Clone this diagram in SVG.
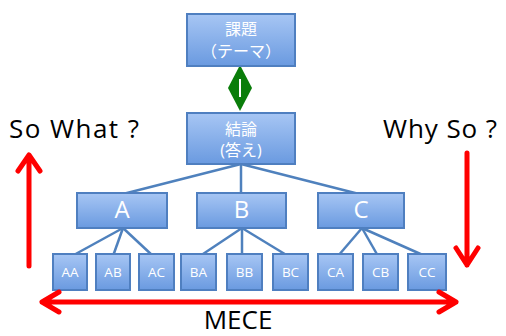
<svg xmlns="http://www.w3.org/2000/svg" width="506" height="336" viewBox="0 0 506 336">
<defs>
<linearGradient id="g" x1="0" y1="0" x2="0" y2="1">
<stop offset="0" stop-color="#a7c6f4"/>
<stop offset="1" stop-color="#6a9ae0"/>
</linearGradient>
</defs>
<style>
.box{fill:url(#g);stroke:#4f7fc0;stroke-width:2}
.t{fill:#fff;font-family:"Open Sans","Noto Sans CJK JP",sans-serif;text-anchor:middle}
.j{font-size:16px}
.big{font-size:24px}
.sm{font-size:13.5px}
.con{stroke:#4f81bd;stroke-width:2.5;fill:none}
.red{stroke:#ff0000;stroke-width:5;fill:none;stroke-linecap:round;stroke-linejoin:round}
.lbl{fill:#000;font-family:"Open Sans",sans-serif;font-size:26px}
</style>
<rect width="506" height="336" fill="#fff"/>
<g id="connectors">
<line class="con" x1="241" y1="164" x2="123" y2="194"/>
<line class="con" x1="241" y1="164" x2="241" y2="194"/>
<line class="con" x1="241" y1="164" x2="359" y2="194"/>
<line class="con" x1="123" y1="228" x2="72" y2="256"/>
<line class="con" x1="123" y1="228" x2="113" y2="256"/>
<line class="con" x1="123" y1="228" x2="153" y2="256"/>
<line class="con" x1="242" y1="228" x2="200" y2="256"/>
<line class="con" x1="242" y1="228" x2="242" y2="256"/>
<line class="con" x1="242" y1="228" x2="288" y2="256"/>
<line class="con" x1="362" y1="228" x2="338" y2="256"/>
<line class="con" x1="362" y1="228" x2="378" y2="256"/>
<line class="con" x1="362" y1="228" x2="425" y2="256"/>
</g>
<g id="link">
<polygon points="240,65 252,88 240,111 228,88" fill="#0a7d0a"/>
<line x1="240" y1="79" x2="240" y2="97" stroke="#fff" stroke-width="2"/>
</g>
<g id="kadai"><rect class="box" x="187" y="14" width="108" height="52"/>
<text class="t j" x="241" y="35">課題</text><text class="t j" x="241" y="57">（テーマ）</text></g>
<g id="ketsuron"><rect class="box" x="187" y="113" width="108" height="51"/>
<text class="t j" x="241" y="135">結論</text><text class="t j" x="241" y="156">(答え)</text></g>
<g id="A"><rect class="box" x="77" y="193" width="90" height="35"/><text class="t big" x="122" y="218">A</text></g>
<g id="B"><rect class="box" x="197" y="193" width="89" height="35"/><text class="t big" x="241.5" y="218">B</text></g>
<g id="C"><rect class="box" x="318" y="193" width="86" height="35"/><text class="t big" x="361" y="218">C</text></g>
<g id="AA"><rect class="box" x="53" y="254" width="34" height="36"/><text class="t sm" x="70" y="277">AA</text></g>
<g id="AB"><rect class="box" x="96" y="254" width="34" height="36"/><text class="t sm" x="113" y="277">AB</text></g>
<g id="AC"><rect class="box" x="139" y="254" width="35" height="36"/><text class="t sm" x="156.5" y="277">AC</text></g>
<g id="BA"><rect class="box" x="181" y="254" width="35" height="36"/><text class="t sm" x="198.5" y="277">BA</text></g>
<g id="BB"><rect class="box" x="227" y="254" width="35" height="36"/><text class="t sm" x="244.5" y="277">BB</text></g>
<g id="BC"><rect class="box" x="273" y="254" width="35" height="36"/><text class="t sm" x="290.5" y="277">BC</text></g>
<g id="CA"><rect class="box" x="318" y="254" width="35" height="36"/><text class="t sm" x="335.5" y="277">CA</text></g>
<g id="CB"><rect class="box" x="363" y="254" width="35" height="36"/><text class="t sm" x="380.5" y="277">CB</text></g>
<g id="CC"><rect class="box" x="408" y="254" width="38" height="36"/><text class="t sm" x="427" y="277">CC</text></g>
<g id="sowhat">
<text class="lbl" x="9" y="138" textLength="130" lengthAdjust="spacing">So What ?</text>
<path class="red" d="M29,266 V155 M18,171 L29,155 L40,171"/>
</g>
<g id="whyso">
<text class="lbl" x="383" y="138" textLength="114" lengthAdjust="spacing">Why So ?</text>
<path class="red" d="M467,153 V265 M456,248 L467,265 L478,248"/>
</g>
<g id="mece">
<path class="red" d="M42,302 H456 M59,292 L42,302 L59,312 M439,292 L456,302 L439,312"/>
<text class="lbl" x="238" y="329" text-anchor="middle" font-size="25">MECE</text>
</g>
</svg>
